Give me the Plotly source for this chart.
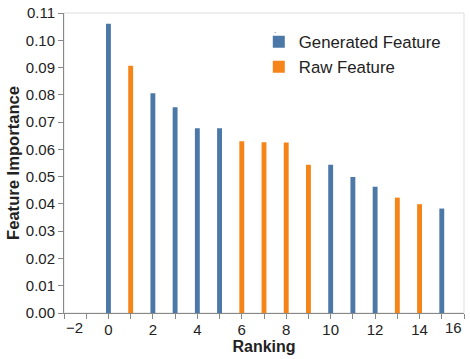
import plotly.graph_objects as go

# valores
ranking = list(range(16))
importance = [0.1061, 0.0907, 0.0806, 0.0754, 0.0677, 0.0677, 0.0630, 0.0626,
              0.0625, 0.0544, 0.0544, 0.0499, 0.0463, 0.0423, 0.0399, 0.0383]
feature_type = ["Generated", "Raw", "Generated", "Generated", "Generated", "Generated",
                "Raw", "Raw", "Raw", "Raw", "Generated", "Generated", "Generated",
                "Raw", "Raw", "Generated"]
series = ["Generated Feature", "Raw Feature"]
colors = {"Generated Feature": "#4c78a8", "Raw Feature": "#f58518"}
x_ticks = list(range(-2, 17, 2))
y_ticks = [i / 100 for i in range(12)]

fig = go.Figure()
for name in series:
    key = name.split()[0]
    xs = [r for r, t in zip(ranking, feature_type) if t == key]
    ys = [v for v, t in zip(importance, feature_type) if t == key]
    fig.add_trace(go.Bar(x=xs, y=ys, name=name, width=0.22,
                         marker=dict(color=colors[name], line=dict(width=0))))

font = "Liberation Sans, Arial, sans-serif"
# -2 e 16 ficam "encostados" nas bordas, como no original
ticktext = ["" if v in (-2, 16) else str(v) for v in x_ticks]

fig.update_layout(
    width=470, height=359,
    margin=dict(l=64, r=6, t=13, b=46, autoexpand=False),
    plot_bgcolor="white", paper_bgcolor="white",
    barmode="overlay",
    font=dict(family=font, size=15, color="#222"),
    showlegend=True,
    legend=dict(x=0.487, y=0.962, xanchor="left", yanchor="top",
                font=dict(size=16.8, color="#222"), bgcolor="rgba(0,0,0,0)",
                itemwidth=30, tracegroupgap=0),
    xaxis=dict(range=[-2, 16], tickmode="array", tickvals=x_ticks, ticktext=ticktext,
               ticks="outside", ticklen=5, tickcolor="#888", showline=True,
               linecolor="#888", showgrid=False, zeroline=False, automargin=False,
               ticklabelstandoff=-2,
               minor=dict(dtick=1, tick0=0, ticks="outside", ticklen=5, tickcolor="#888", showgrid=False),
               title=dict(text="<b>Ranking</b>", font=dict(size=16), standoff=0)),
    yaxis=dict(range=[0, 0.11], tickmode="array", tickvals=y_ticks,
               tickformat=".2f", ticks="outside", ticklen=5, tickcolor="#888",
               showline=True, linecolor="#888", showgrid=False, zeroline=False, automargin=False,
               title=dict(text="<b>Feature Importance</b>", font=dict(size=16.6), standoff=1)),
    shapes=[dict(type="rect", xref="paper", yref="paper", x0=0, x1=1, y0=0, y1=1,
                 line=dict(color="#ddd", width=1), layer="below")],
    annotations=[
        dict(x=-2, y=0, xref="x", yref="paper", text="\u22122", showarrow=False,
             xanchor="left", yanchor="top", yshift=-4, font=dict(size=15, color="#222")),
        dict(x=16, y=0, xref="x", yref="paper", text="16", showarrow=False,
             xanchor="right", yanchor="top", yshift=-4, font=dict(size=15, color="#222")),
        dict(x=0.52, y=0.94, xref="paper", yref="paper", text="-", showarrow=False,
             xanchor="left", yanchor="middle", font=dict(size=7, color="#888")),
    ],
)

# tira a margem padrão do <body> para a figura ocupar a janela toda
fig.write_html("out.html", config={"displayModeBar": False},
               post_script="document.body.style.margin='0';")
